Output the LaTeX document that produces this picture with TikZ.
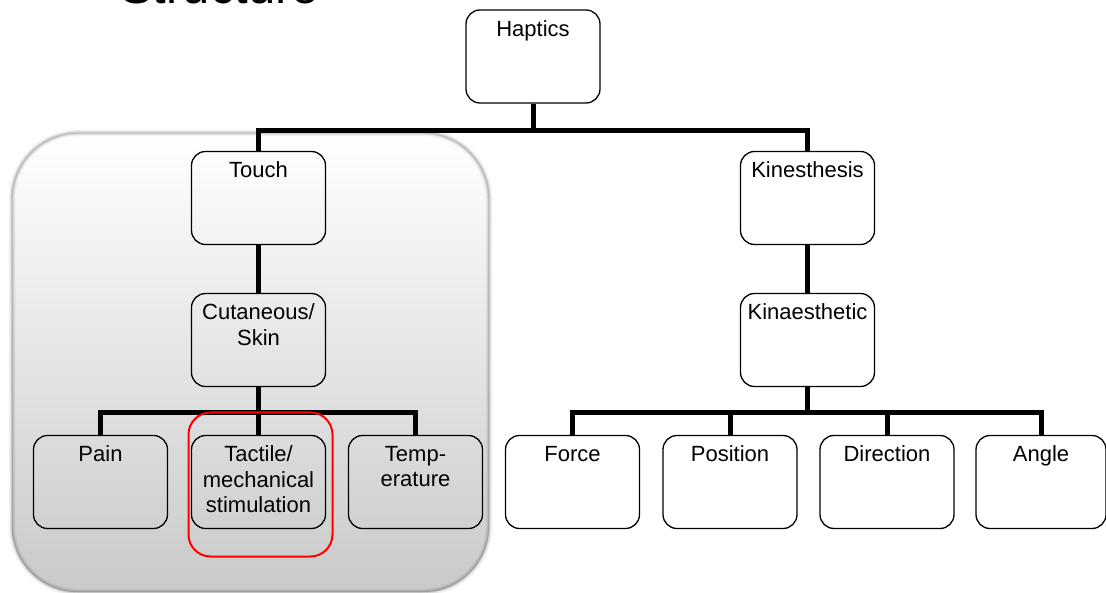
\documentclass[tikz,border=0pt]{standalone}
\usepackage{fontspec}
\setmainfont{Liberation Sans}
\usetikzlibrary{calc}
\begin{document}
\begin{tikzpicture}[x=1pt,y=-1pt,
  box/.style={draw=black, line width=1.3pt, rounded corners=14pt, minimum width=134pt, minimum height=93pt, inner sep=0pt},
  lbl/.style={anchor=north, inner sep=0pt, align=center, font=\fontsize{22}{25.5}\selectfont},
  conn/.style={draw=black, line width=5pt, line join=miter},
  hilite/.style={draw=red, line width=2pt, rounded corners=22pt, minimum width=144pt, minimum height=144pt, inner sep=0pt},
  panelshade/.style={top color=white, middle color=white, bottom color=black!21, rounded corners=66pt}
]
\useasboundingbox (0,0) rectangle (1106,593);
\clip (0,0) rectangle (1106,593);

% title (cut at top)
\node[anchor=base west, inner sep=0pt, font=\fontsize{49}{55}\selectfont] (title) at (120,4) {Structure};

% shaded panel
\path[panelshade] (12,133) rectangle (489,592);
\foreach \w/\o in {7/0.03, 5/0.05, 3/0.07, 1.4/0.12}{
  \draw[line width=\w pt, draw=black, draw opacity=\o, rounded corners=66pt] (12,133) rectangle (489,592);
}

% boxes
\node[box] (hap) at (533,56.5) {};
\node[box] (touch) at (258.5,198) {};
\node[box] (kin) at (807.5,198) {};
\node[box] (cut) at (258.5,340) {};
\node[box] (kinae) at (807.5,340) {};
\node[box] (pain) at (100.5,482) {};
\node[box] (tact) at (258.5,482) {};
\node[box] (temp) at (415.5,482) {};
\node[box] (force) at (572.5,482) {};
\node[box] (pos) at (730,482) {};
\node[box] (dir) at (887,482) {};
\node[box, minimum width=130pt] (angle) at (1041,482) {};

% labels
\node[lbl] (hapT) at ([yshift=-11pt]hap.north) {Haptics};
\node[lbl] (touchT) at ([yshift=-11pt]touch.north) {Touch};
\node[lbl] (kinT) at ([yshift=-11pt]kin.north) {Kinesthesis};
\node[lbl] (cutT) at ([yshift=-11pt]cut.north) {Cutaneous/\\Skin};
\node[lbl] (kinaeT) at ([yshift=-11pt]kinae.north) {Kinaesthetic};
\node[lbl] (painT) at ([yshift=-11pt]pain.north) {Pain};
\node[lbl] (tactT) at ([yshift=-11pt]tact.north) {Tactile/\\mechanical\\stimulation};
\node[lbl] (tempT) at ([yshift=-11pt]temp.north) {Temp-\\erature};
\node[lbl] (forceT) at ([yshift=-11pt]force.north) {Force};
\node[lbl] (posT) at ([yshift=-11pt]pos.north) {Position};
\node[lbl] (dirT) at ([yshift=-11pt]dir.north) {Direction};
\node[lbl] (angleT) at ([yshift=-11pt]angle.north) {Angle};

% connectors
\coordinate (bar1) at (533,131);
\coordinate (bar2) at (258.5,413);
\coordinate (bar3) at (807.5,413);
\draw[conn] (hap.south) -- (bar1);
\draw[conn] (touch.north) |- (bar1) -| (kin.north);
\draw[conn] (touch.south) -- (cut.north);
\draw[conn] (kin.south) -- (kinae.north);
\draw[conn] (cut.south) -- (tact.north);
\draw[conn] (pain.north) |- (bar2) -| (temp.north);
\draw[conn] (kinae.south) -- (bar3);
\draw[conn] (force.north) |- (bar3) -| (angle.north);
\draw[conn] (pos.north) -- (pos.north |- bar3);
\draw[conn] (dir.north) -- (dir.north |- bar3);

% highlight
\node[hilite] (hl) at (260.5,484.5) {};
\end{tikzpicture}
\end{document}
